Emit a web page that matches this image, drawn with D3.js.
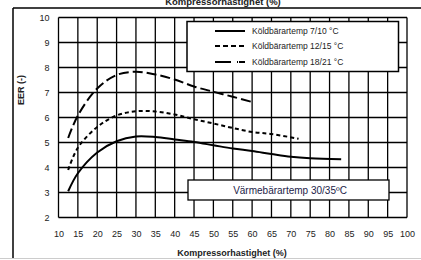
<!DOCTYPE html>
<html>
<head>
<meta charset="utf-8">
<script src="https://cdn.jsdelivr.net/npm/d3@7"></script>
<style>
  body { margin: 0; background: #fff; }
  svg { display: block; font-family: "Liberation Sans", Arial, sans-serif; }
</style>
</head>
<body>
<svg id="chart" width="421" height="260"></svg>
<script>
// Data
const xTicks = d3.range(10, 101, 5);
const yTicks = d3.range(2, 11, 1);

const speed710 = [12.5, 15, 20, 25, 30, 35, 40, 45, 50, 55, 60, 65, 70, 75, 83];
const eer710   = [3.05, 3.77, 4.6, 5.05, 5.24, 5.22, 5.12, 5.02, 4.89, 4.76, 4.66, 4.54, 4.43, 4.37, 4.33];

const speed1215 = [12.5, 15, 20, 25, 30, 35, 40, 45, 50, 55, 60, 65, 72];
const eer1215   = [3.9, 4.79, 5.62, 6.08, 6.25, 6.24, 6.12, 5.93, 5.76, 5.58, 5.42, 5.34, 5.15];

const speed1821 = [12.5, 15, 20, 25, 30, 35, 40, 45, 50, 55, 60];
const eer1821   = [5.18, 6.08, 7.16, 7.7, 7.83, 7.72, 7.52, 7.24, 7.03, 6.83, 6.62];

const seriesNames = ['Köldbärartemp 7/10 °C', 'Köldbärartemp 12/15 °C', 'Köldbärartemp 18/21 °C'];
const dashes = [null, '4,3', '10,4'];

const svg = d3.select('#chart');
const plot = { left: 58.5, right: 407, top: 17.5, bottom: 217.5 };

const x = d3.scaleLinear().domain([10, 100]).range([plot.left, plot.right]);
const y = d3.scaleLinear().domain([2, 10]).range([plot.bottom, plot.top]);

// page frame lines
svg.append('line').attr('x1', 13).attr('x2', 421).attr('y1', 8).attr('y2', 8)
    .attr('stroke', '#000').attr('stroke-width', 1.5);
svg.append('line').attr('x1', 13).attr('x2', 13).attr('y1', 8).attr('y2', 258)
    .attr('stroke', '#000').attr('stroke-width', 1.5);
svg.append('line').attr('x1', 0).attr('x2', 421).attr('y1', 258.5).attr('y2', 258.5)
    .attr('stroke', '#ccc').attr('stroke-width', 1);

// title, cut off at the top edge as in the source
svg.append('text').attr('x', 223).attr('y', 5)
    .attr('text-anchor', 'middle').attr('font-size', 9.5).attr('font-weight', 'bold')
    .attr('fill', '#222').text('Kompressorhastighet  (%)');

// grid
const grid = svg.append('g').attr('stroke', '#000').attr('stroke-width', 1.3);
grid.selectAll('line.v').data(xTicks).join('line').attr('class', 'v')
    .attr('x1', d => x(d)).attr('x2', d => x(d))
    .attr('y1', plot.top).attr('y2', plot.bottom);
grid.selectAll('line.h').data(yTicks).join('line').attr('class', 'h')
    .attr('x1', plot.left).attr('x2', plot.right)
    .attr('y1', d => y(d)).attr('y2', d => y(d));

// axes (labels only)
const xAxis = svg.append('g')
    .attr('transform', `translate(0,${plot.bottom + 9})`)
    .call(d3.axisBottom(x).tickValues(xTicks).tickSize(0).tickPadding(4));
const yAxis = svg.append('g')
    .attr('transform', `translate(${plot.left - 8},0)`)
    .call(d3.axisLeft(y).tickValues(yTicks).tickSize(0).tickPadding(1));
[xAxis, yAxis].forEach(a => {
    a.select('.domain').remove();
    a.selectAll('.tick text').attr('font-size', 9).attr('fill', '#222')
        .attr('font-family', '"Liberation Sans", Arial, sans-serif');
});

svg.append('text').attr('x', 232).attr('y', 256)
    .attr('text-anchor', 'middle').attr('font-size', 9).attr('font-weight', 'bold')
    .attr('fill', '#222').text('Kompressorhastighet  (%)');
svg.append('text').attr('transform', 'translate(24,90) rotate(-90)')
    .attr('text-anchor', 'middle').attr('font-size', 9).attr('font-weight', 'bold')
    .attr('fill', '#222').text('EER (-)');

// curves
const line = d3.line().x(d => x(d[0])).y(d => y(d[1])).curve(d3.curveCatmullRom.alpha(0.5));
const series = [
    d3.zip(speed710, eer710),
    d3.zip(speed1215, eer1215),
    d3.zip(speed1821, eer1821)
];
svg.append('g').selectAll('path').data(series).join('path')
    .attr('d', line)
    .attr('fill', 'none').attr('stroke', '#000').attr('stroke-width', 2)
    .attr('stroke-dasharray', (d, i) => dashes[i]);

// legend
const lg = svg.append('g');
lg.append('rect').attr('x', 187).attr('y', 21.5).attr('width', 211.5).attr('height', 50)
    .attr('fill', '#fff').attr('stroke', '#000').attr('stroke-width', 1.5);
const rowsY = [31, 46, 62];
seriesNames.forEach((name, i) => {
    lg.append('line').attr('x1', 215).attr('x2', 245).attr('y1', rowsY[i]).attr('y2', rowsY[i])
        .attr('stroke', '#000').attr('stroke-width', 2)
        .attr('stroke-dasharray', i === 2 ? '16,6,1,1' : (i === 1 ? '5,3' : null));
    lg.append('text').attr('x', 252).attr('y', rowsY[i] + 3.2)
        .attr('font-size', 8.5).attr('fill', '#222').text(name);
});

// annotation
svg.append('rect').attr('x', 188).attr('y', 180).attr('width', 201).attr('height', 20)
    .attr('fill', '#fff').attr('stroke', '#000').attr('stroke-width', 1.3);
svg.append('text').attr('x', 290).attr('y', 194)
    .attr('text-anchor', 'middle').attr('font-size', 10).attr('fill', '#1c1c48')
    .text('Värmebärartemp 30/35ºC');
</script>
</body>
</html>
